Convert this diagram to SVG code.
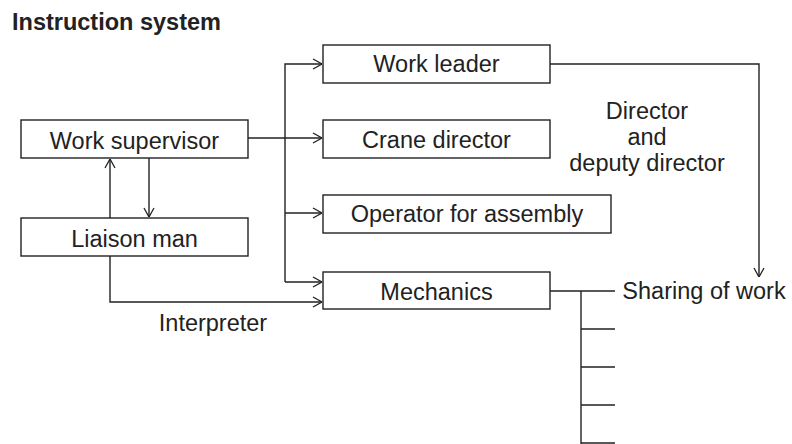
<svg xmlns="http://www.w3.org/2000/svg" width="792" height="444" viewBox="0 0 792 444">
<style>
.box{fill:#fff;stroke:#222;stroke-width:1.4}
.t{font-family:"Liberation Sans",Arial,sans-serif;font-size:23.5px;fill:#222;text-anchor:middle}
.l{fill:none;stroke:#222;stroke-width:1.4}
</style>
<defs>
<marker id="ah" viewBox="0 0 10 12" refX="10" refY="6" markerWidth="10" markerHeight="12" markerUnits="userSpaceOnUse" orient="auto">
<path d="M1,1 L10,6 L1,11" fill="none" stroke="#222" stroke-width="1.3"/>
</marker>
</defs>
<rect width="792" height="444" fill="#fff"/>
<text x="12" y="30" style="font-family:'Liberation Sans',Arial,sans-serif;font-size:23.5px;font-weight:bold;fill:#222">Instruction system</text>
<g id="connectors">
<path class="l" d="M248,138 H322" marker-end="url(#ah)"/>
<path class="l" d="M285,282 V64 H322" marker-end="url(#ah)"/>
<path class="l" d="M285,213 H322" marker-end="url(#ah)"/>
<path class="l" d="M285,282 H322" marker-end="url(#ah)"/>
<path class="l" d="M110,218 V159" marker-end="url(#ah)"/>
<path class="l" d="M149,158 V217" marker-end="url(#ah)"/>
<path class="l" d="M110,256 V302 H322" marker-end="url(#ah)"/>
<path class="l" d="M550,64 H759 V277" marker-end="url(#ah)"/>
<path class="l" d="M550,291 H615 M581,291 V444 M581,329 H615 M581,367 H615 M581,405 H615 M581,443 H615"/>
</g>
<g id="work-supervisor"><rect class="box" x="21" y="120" width="227" height="38"/><text class="t" x="134.5" y="148.5">Work supervisor</text></g>
<g id="liaison-man"><rect class="box" x="21" y="218" width="227" height="38"/><text class="t" x="134.5" y="246.5">Liaison man</text></g>
<g id="work-leader"><rect class="box" x="323" y="45" width="227" height="38"/><text class="t" x="436.5" y="72">Work leader</text></g>
<g id="crane-director"><rect class="box" x="323" y="120" width="227" height="38"/><text class="t" x="436.5" y="147.5">Crane director</text></g>
<g id="operator"><rect class="box" x="323" y="195" width="288" height="38"/><text class="t" x="467" y="222">Operator for assembly</text></g>
<g id="mechanics"><rect class="box" x="323" y="272" width="227" height="37"/><text class="t" x="436.5" y="300">Mechanics</text></g>
<g id="labels">
<text class="t" x="647" y="119">Director</text>
<text class="t" x="647" y="145">and</text>
<text class="t" x="647" y="171">deputy director</text>
<text class="t" x="213" y="331">Interpreter</text>
<text class="t" x="704" y="299">Sharing of work</text>
</g>
</svg>
